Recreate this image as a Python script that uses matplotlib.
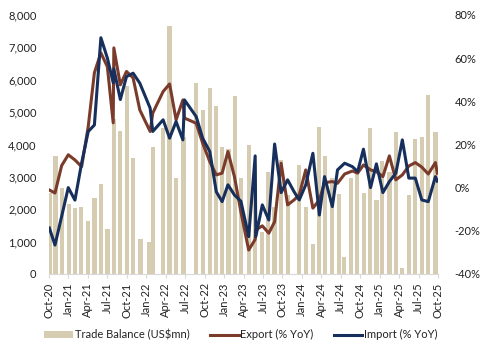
import matplotlib
matplotlib.use("Agg")
import matplotlib.pyplot as plt
import numpy as np

plt.rcParams['font.family'] = ['Lato', 'DejaVu Sans']

# month position (0 = Oct-20) of each bar
bar_pos = [0.15, 1.0, 2.05, 3.03, 4.0, 4.97, 6.05, 7.0, 8.0, 9.0, 10.0, 11.0, 12.0, 13.0,
           14.1, 15.5, 16.05, 17.6, 18.6, 19.6, 20.75, 22.7, 23.8, 24.8, 25.8, 26.7, 27.7,
           28.7, 29.6, 30.8, 31.8, 32.8, 33.8, 34.8, 35.8, 36.9, 38.6, 39.6, 40.7, 41.6,
           42.6, 43.6, 44.7, 45.5, 46.6, 47.5, 48.6, 49.5, 50.5, 51.4, 52.5, 53.5, 54.5,
           55.5, 56.5, 57.5, 58.5, 59.6]
trade_balance = [2490, 3640, 2640, 2160, 2030, 2080, 1630, 2340, 2780, 1380, 4780, 4420, 5800,
                 3570, 1070, 1000, 3910, 4500, 7650, 2950, 4240, 5900, 5060, 5740, 5200, 3930,
                 3850, 5500, 2950, 3980, 3400, 1300, 3160, 2080, 3520, 2440, 3360, 2060, 920,
                 4530, 3640, 2950, 2470, 510, 2950, 3100, 2510, 4500, 2280, 3500, 3140, 4390,
                 200, 2440, 4170, 4240, 5520, 4390]

# month position of each line point
line_pos = [0.05, 0.92, 1.95, 2.97, 4.0, 5.03, 6.05, 7.0, 8.0, 9.0, 9.9, 10.0, 11.0, 11.95,
            12.97, 14.0, 15.6, 16.0, 17.6, 18.6, 19.6, 20.65, 20.9, 22.7, 23.7, 24.8, 25.8,
            26.7, 27.6, 28.6, 29.6, 30.8, 31.8, 31.9, 32.9, 33.9, 34.8, 35.8, 36.8, 37.8,
            38.6, 39.6, 40.7, 41.7, 42.5, 43.7, 44.5, 45.6, 46.8, 47.6, 48.5, 49.6, 50.5,
            51.5, 52.5, 53.5, 54.5, 55.5, 56.5, 57.5, 58.5, 59.6, 59.9]
export_yoy = [-1.1, -2.5, 10.2, 15.2, 12.8, 9.7, 28.3, 53.2, 62.4, 56.0, 30.0, 64.7, 47.6, 53.8,
              50.8, 36.0, 26.0, 34.5, 44.5, 48.0, 31.4, 40.6, 32.2, 29.8, 20.6, 12.0, 5.9,
              6.7, 16.7, 5.1, -11.3, -28.9, -24.0, -19.6, -17.7, -21.1, -15.8, 11.3, -8.0, -5.7,
              -3.4, 8.2, -9.5, -5.7, 2.3, 2.8, 2.0, 6.3, 7.7, 6.7, 10.5, 8.2, 7.4,
              5.1, 14.7, 3.6, 5.9, 10.0, 11.6, 9.5, 6.3, 11.6, 6.7]
import_yoy = [-18.7, -26.6, -13.3, 0.0, -5.8, 11.4, 26.0, 29.0, 69.4, 60.0, 48.6, 55.0, 40.8, 51.4,
              53.0, 48.4, 36.8, 26.0, 31.4, 22.9, 30.6, 22.1, 40.6, 32.9, 22.9, 16.7, -1.9,
              -6.5, 1.3, -3.4, -6.3, -22.7, 14.7, -22.7, -8.0, -15.0, 20.2, -2.3, 3.6, -1.9,
              -5.7, 1.3, 15.9, -12.7, 5.1, -8.8, 8.2, 11.3, 9.7, 7.4, 17.8, 0.0, 11.0,
              -2.3, 2.8, 6.7, 22.1, 4.4, 4.4, -5.7, -6.5, 5.1, 3.0]

tick_pos = list(range(0, 61, 3))
tick_labels = ['Oct-20', 'Jan-21', 'Apr-21', 'Jul-21', 'Oct-21', 'Jan-22', 'Apr-22', 'Jul-22',
               'Oct-22', 'Jan-23', 'Apr-23', 'Jul-23', 'Oct-23', 'Jan-24', 'Apr-24', 'Jul-24',
               'Oct-24', 'Jan-25', 'Apr-25', 'Jul-25', 'Oct-25']

bar_col = '#d6ccb1'
exp_col = '#7a3b2b'
imp_col = '#172f5c'
txt_col = '#222222'

fig = plt.figure(figsize=(4.82, 3.54), dpi=100)
ax = fig.add_axes([0.1017, 0.226, 0.807, 0.732])
ax2 = ax.twinx()

ax.bar(bar_pos, trade_balance, width=0.66, color=bar_col, label='Trade Balance (US$mn)', zorder=1)
ax2.plot(line_pos, export_yoy, color=exp_col, lw=2.2, label='Export (% YoY)')
ax2.plot(line_pos, import_yoy, color=imp_col, lw=2.2, label='Import (% YoY)')

ax.set_xlim(0, 60)
ax.set_ylim(0, 8000)
ax2.set_ylim(-40, 80)
ax.set_yticks(range(0, 8001, 1000))
ax.set_yticklabels([f'{v:,}' for v in range(0, 8001, 1000)])
ax2.set_yticks(range(-40, 81, 20))
ax2.set_yticklabels([f'{v}%' for v in range(-40, 81, 20)])
ax.set_xticks(tick_pos)
ax.set_xticklabels(tick_labels, rotation=90)

for a in (ax, ax2):
    for s in ('top', 'left', 'right'):
        a.spines[s].set_visible(False)
    a.spines['bottom'].set_color('#d9d9d9')
ax2.spines['bottom'].set_visible(False)
ax.tick_params(axis='y', length=0, pad=9, labelsize=8, colors=txt_col)
ax2.tick_params(axis='y', length=0, pad=12, labelsize=8, colors=txt_col)
ax.tick_params(axis='x', length=3, color='#d9d9d9', pad=3, labelsize=8, labelcolor=txt_col)

h1, l1 = ax.get_legend_handles_labels()
h2, l2 = ax2.get_legend_handles_labels()
fig.legend(h1 + h2, l1 + l2, loc='center', bbox_to_anchor=(0.5, 0.054), ncol=3, frameon=False,
           fontsize=8, handlelength=2.6, handleheight=0.6, columnspacing=1.8, handletextpad=0.15,
           labelcolor=txt_col)

fig.savefig('out.png', dpi=100)
